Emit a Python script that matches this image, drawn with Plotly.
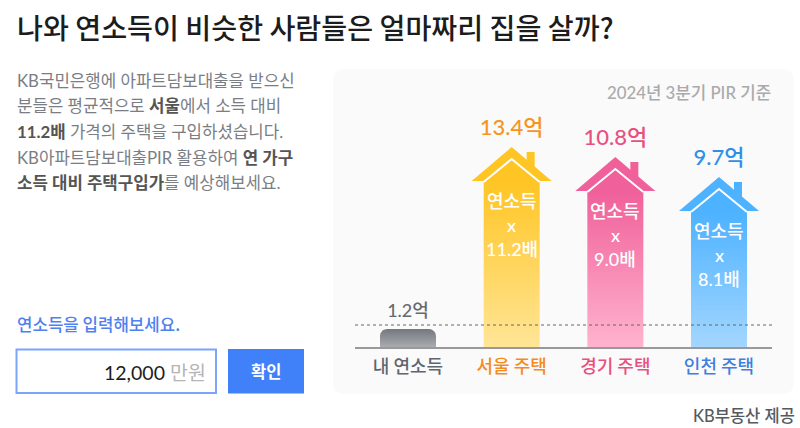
import numpy as np
import plotly.graph_objects as go

W, H = 800, 428
FONT = "Lato, 'Noto Sans CJK KR', sans-serif"
KR = "'Noto Sans CJK KR', sans-serif"

categories = ["내 연소득", "서울 주택", "경기 주택", "인천 주택"]
# drawn height of each house body (px above the baseline,
# the original is not proportional to the price)
house_heights = [18, 166, 156, 136]
price_labels = ["1.2억", "13.4억", "10.8억", "9.7억"]
multiples = [None, "11.2배", "9.0배", "8.1배"]
reference_level = 22

text_colors = ["#666a70", "#f7941d", "#e8507f", "#2f8fe8"]
cat_colors = ["#5f6670", "#f58a1f", "#e8507f", "#3f7fe0"]
top_colors = ["#74777f", "#ffc524", "#f0609a", "#4db2ff"]
bottom_colors = ["#a9abb0", "#ffe596", "#ffb3ce", "#a3d6ff"]

# pixel frame of the plot
X0, X1 = 355, 772
BASE = 347
FIRST, STEP = 408, 103.67
BODY = 28 / STEP
ROOF_W = 40 / STEP
ROOF_H = 34


def px(x):
    return x / W


def py(y):
    return 1 - y / H


def add_note(fig, x, y, text, size, color, anchor="left", font=KR, weight=None):
    fig.add_annotation(
        x=px(x), y=py(y), xref="paper", yref="paper", text=text, showarrow=False,
        xanchor=anchor, yanchor="middle", align=anchor,
        font=dict(size=size, color=color, family=font, weight=weight),
    )


fig = go.Figure()
pos = list(range(len(categories)))

for i, h in zip(pos, house_heights):
    if multiples[i] is None:
        # small rounded block, no roof
        r_x, r_y = 7 / STEP, 7
        a = np.linspace(0, np.pi / 2, 8)
        xs = np.concatenate([[i - BODY, i + BODY], i + BODY - r_x + r_x * np.cos(a),
                             i - BODY + r_x - r_x * np.sin(a)])
        ys = np.concatenate([[0, 0], h - r_y + r_y * np.sin(a), h - r_y + r_y * np.cos(a)])
    else:
        xs = [i - BODY, i + BODY, i + BODY, i - BODY]
        ys = [0, 0, h, h]
    fig.add_trace(go.Scatter(
        x=xs, y=ys, mode="lines", fill="toself", line=dict(width=0),
        fillgradient=dict(type="vertical", start=0, stop=h,
                          colorscale=[[0, bottom_colors[i]], [1, top_colors[i]]]),
        hoverinfo="skip", showlegend=False,
    ))
    if multiples[i] is None:
        continue
    # chimney, roof and the white chevron under it
    fig.add_trace(go.Scatter(
        x=[i + 15 / STEP, i + 23 / STEP, i + 23 / STEP, i + 15 / STEP],
        y=[h + 14, h + 14, h + ROOF_H - 5, h + ROOF_H - 5],
        mode="lines", fill="toself", fillcolor=top_colors[i], line=dict(width=0),
        hoverinfo="skip", showlegend=False,
    ))
    fig.add_trace(go.Scatter(
        x=[i - ROOF_W, i, i + ROOF_W], y=[h, h + ROOF_H, h],
        mode="lines", fill="toself", fillcolor=top_colors[i], line=dict(width=0),
        hoverinfo="skip", showlegend=False,
    ))
    fig.add_trace(go.Scatter(
        x=[i - BODY, i, i + BODY], y=[h - 1, h + 22, h - 1],
        mode="lines", line=dict(color="white", width=2),
        hoverinfo="skip", showlegend=False,
    ))
    for k, line in enumerate(["연소득", "x", multiples[i]]):
        fig.add_annotation(
            x=i, y=h - 20 - 24 * k, text=line, showarrow=False, xanchor="center", yanchor="middle",
            font=dict(size=18, color="white", family=FONT, weight=500),
        )

# price labels above each house
label_y = [h + (ROOF_H + 18 if multiples[i] else 17) for i, h in enumerate(house_heights)]
fig.add_trace(go.Scatter(
    x=pos, y=label_y, mode="text", text=price_labels, textposition="middle center",
    textfont=dict(size=[18, 22, 22, 22], color=text_colors, family=FONT, weight=500),
    hoverinfo="skip", showlegend=False,
))

fig.add_hline(y=reference_level, line=dict(color="#666666", width=1, dash="dot"))

fig.update_xaxes(
    domain=[px(X0), px(X1)],
    range=[(X0 - FIRST) / STEP, (X1 - FIRST) / STEP],
    tickvals=pos,
    ticktext=[f'<span style="color:{c}">{t}</span>' for t, c in zip(categories, cat_colors)],
    tickfont=dict(size=18, family=KR, weight=500),
    ticklabelstandoff=2,
    ticks="", showgrid=False, zeroline=False,
    showline=True, linecolor="#999999", linewidth=2,
)
fig.update_yaxes(
    domain=[py(BASE), 1], range=[0, BASE], visible=False,
)

# background panel, input box and button
r = 12
panel = (f"M {px(333 + r)} {py(69)} L {px(794 - r)} {py(69)} Q {px(794)} {py(69)} {px(794)} {py(69 + r)} "
         f"L {px(794)} {py(394 - r)} Q {px(794)} {py(394)} {px(794 - r)} {py(394)} "
         f"L {px(333 + r)} {py(394)} Q {px(333)} {py(394)} {px(333)} {py(394 - r)} "
         f"L {px(333)} {py(69 + r)} Q {px(333)} {py(69)} {px(333 + r)} {py(69)} Z")
fig.add_shape(type="path", path=panel, xref="paper", yref="paper", layer="below",
              fillcolor="#fafafa", line=dict(width=0))
fig.add_shape(type="rect", xref="paper", yref="paper", x0=px(16.5), x1=px(216), y0=py(349.5), y1=py(393),
              fillcolor="white", line=dict(color="#7ba4fb", width=2))
fig.add_shape(type="rect", xref="paper", yref="paper", x0=px(228), x1=px(304), y0=py(349), y1=py(393.5),
              fillcolor="#4080f8", line=dict(width=0))

add_note(fig, 15, 27, "나와 연소득이 비슷한 사람들은 얼마짜리 집을 살까?", 28.2, "#1c1c1c", weight=500)

body_lines = [
    "KB국민은행에 아파트담보대출을 받으신",
    '분들은 평균적으로 <b style="color:#555">서울</b>에서 소득 대비',
    '<b style="color:#555">11.2배</b> 가격의 주택을 구입하셨습니다.',
    'KB아파트담보대출PIR 활용하여 <b style="color:#555">연 가구</b>',
    '<b style="color:#555">소득 대비 주택구입가</b>를 예상해보세요.',
]
for line, y in zip(body_lines, [81, 106, 132, 157, 182]):
    add_note(fig, 15, y, line, 16.8, "#7a7e84", font=FONT)

add_note(fig, 15, 324, "연소득을 입력해보세요.", 16.8, "#4f80f0", weight=500)
add_note(fig, 208, 372, '12,000 <span style="color:#b5b5b5">만원</span>', 19.5, "#1c1c1c", anchor="right", font=FONT)
add_note(fig, 266, 371, "<b>확인</b>", 16.5, "white", anchor="center")
add_note(fig, 773, 92, "2024년 3분기 PIR 기준", 16.8, "#aaaaaa", anchor="right", font=FONT, weight=500)
add_note(fig, 797, 416, "KB부동산 제공", 16.5, "#555a60", anchor="right", font=FONT, weight=500)

fig.update_layout(
    width=W, height=H,
    margin=dict(l=0, r=0, t=0, b=0),
    paper_bgcolor="white", plot_bgcolor="rgba(0,0,0,0)",
    showlegend=False,
)

fig.write_html("out.html", config=dict(displayModeBar=False),
               post_script="document.body.style.margin='0';")
